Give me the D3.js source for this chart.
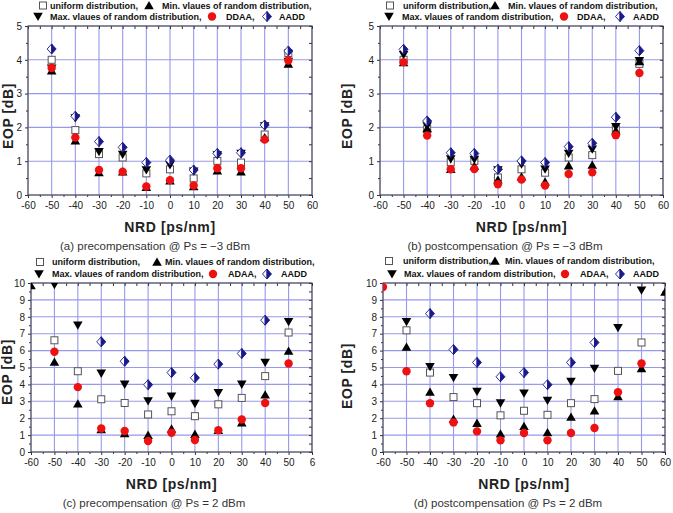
<!DOCTYPE html>
<html>
<head>
<meta charset="utf-8">
<script src="https://cdn.jsdelivr.net/npm/d3@7"></script>
<style>
  html, body { margin: 0; padding: 0; background: #fff; }
  svg { display: block; font-family: "Liberation Sans", Arial, sans-serif; }
</style>
</head>
<body>
<svg id="chart" width="673" height="513"></svg>
<script>
// ---------------- DATA ----------------
const nrdTop = [-50, -40, -30, -20, -10, 0, 10, 20, 30, 40, 50];
const nrdBottom = [-60, -50, -40, -30, -20, -10, 0, 10, 20, 30, 40, 50, 60];
const xTicks = [-60, -50, -40, -30, -20, -10, 0, 10, 20, 30, 40, 50, 60];
const xTickLabelsAB = ["-60","-50","-40","-30","-20","-10","0","10","20","30","40","50","60"];
const xTickLabelsC = ["-60","-50","-40","-30","-20","-10","0","10","20","30","40","50","6"];
const yTicksTop = [0, 1, 2, 3, 4, 5];
const yTicksBottom = [0, 1, 2, 3, 4, 5, 6, 7, 8, 9, 10];

// (a) precompensation @ Ps = -3 dBm
const aUniform = [4.00, 1.92, 1.21, 1.11, 0.64, 0.76, 0.49, 1.01, 0.96, 1.79, 4.20];
const aMin     = [3.68, 1.61, 0.67, 0.69, 0.23, 0.42, 0.25, 0.72, 0.69, 1.70, 3.88];
const aMax     = [3.75, 2.28, 1.28, 1.20, 0.74, 0.89, 0.70, 1.18, 1.23, 2.04, 3.95];
const aDDAA    = [3.76, 1.70, 0.74, 0.69, 0.25, 0.44, 0.28, 0.79, 0.79, 1.64, 3.98];
const aAADD    = [4.32, 2.33, 1.58, 1.41, 0.96, 1.03, 0.74, 1.23, 1.25, 2.07, 4.26];

// (b) postcompensation @ Ps = -3 dBm
const bUniform = [4.00, 1.95, 0.97, 1.01, 0.52, 0.76, 0.66, 1.11, 1.18, 1.95, 3.88];
const bMin     = [3.92, 1.97, 0.76, 0.85, 0.45, 0.54, 0.39, 0.87, 0.89, 1.90, 3.95];
const bMax     = [4.15, 2.04, 1.06, 1.05, 0.74, 0.91, 0.76, 1.23, 1.35, 2.02, 3.97];
const bDDAA    = [3.93, 1.76, 0.76, 0.77, 0.32, 0.46, 0.28, 0.62, 0.67, 1.77, 3.61];
const bAADD    = [4.31, 2.19, 1.25, 1.23, 0.76, 1.01, 0.96, 1.43, 1.53, 2.30, 4.27];

// (c) precompensation @ Ps = 2 dBm  (x = -60 .. 60)
const cUniform = [null, 6.61, 4.78, 3.12, 2.90, 2.22, 2.41, 2.12, 2.82, 3.20, 4.49, 7.07, null];
const cMin     = [9.85, 5.33, 2.86, 1.33, 1.10, 1.00, 1.37, 1.06, 1.29, 1.73, 3.39, 5.98, null];
const cMax     = [null, 9.90, 7.50, 4.65, 4.00, 3.02, 3.29, 2.86, 3.51, 4.00, 5.30, 7.70, null];
const cADAA    = [null, 5.93, 3.84, 1.39, 1.24, 0.65, 1.14, 0.71, 1.29, 1.92, 2.90, 5.24, null];
const cAADD    = [null, null, null, 6.52, 5.37, 3.98, 4.70, 4.39, 5.20, 5.83, 7.80, null, null];

// (d) postcompensation @ Ps = 2 dBm  (x = -60 .. 60)
const dUniform = [null, 7.20, 4.70, 3.25, 2.89, 2.17, 2.44, 2.20, 2.89, 3.13, 4.80, 6.48, null];
const dMin     = [null, 6.22, 3.55, 1.95, 1.71, 1.08, 1.52, 1.16, 2.07, 2.44, 3.29, 4.94, 9.47];
const dMax     = [null, 7.70, 5.04, 4.39, 3.58, 2.89, 3.48, 3.05, 4.17, 4.94, 7.35, 9.57, null];
const dADAA    = [9.76, 4.78, 2.89, 1.75, 1.22, 0.69, 1.12, 0.69, 1.12, 1.42, 3.54, 5.24, null];
const dAADD    = [null, null, 8.19, 6.06, 5.30, 4.45, 4.70, 3.98, 5.30, 6.48, null, null, null];

const legendLine1 = ["uniform distribution,", "Min. vlaues of random distribution,"];
const legendLine2AB = ["Max. vlaues of random distribution,", "DDAA,", "AADD"];
const legendLine2CD = ["Max. vlaues of random distribution,", "ADAA,", "AADD"];
const captions = [
  "(a)  precompensation  @  Ps  =  \u22123  dBm",
  "(b)  postcompensation  @  Ps  =  \u22123  dBm",
  "(c)  precompensation  @  Ps  =  2  dBm",
  "(d)  postcompensation  @  Ps  =  2  dBm"
];
const xTitle = "NRD [ps/nm]";
const yTitle = "EOP [dB]";

// ---------------- DRAW ----------------
const svg = d3.select("#chart");
const FONT = '"Liberation Sans", Arial, sans-serif';
const GRID = "#9898ec";
const NAVY = "#1a1a8c";
const RED = "#ee1111";

function drawMarker(g, type, x, y) {
  if (type === "square") {
    g.append("rect").attr("x", x - 3.5).attr("y", y - 3.5).attr("width", 7).attr("height", 7)
      .attr("fill", "#fff").attr("stroke", "#555").attr("stroke-width", 1);
  } else if (type === "up") {
    g.append("path").attr("d", `M${x},${y-4.5}L${x+4.8},${y+3.8}L${x-4.8},${y+3.8}Z`).attr("fill", "#000");
  } else if (type === "down") {
    g.append("path").attr("d", `M${x},${y+4.5}L${x+4.8},${y-3.8}L${x-4.8},${y-3.8}Z`).attr("fill", "#000");
  } else if (type === "circle") {
    g.append("circle").attr("cx", x).attr("cy", y).attr("r", 4.2).attr("fill", RED);
  } else if (type === "diamond") {
    g.append("path").attr("d", `M${x},${y-5}L${x-4.5},${y}L${x},${y+5}Z`)
      .attr("fill", "#fff").attr("stroke", NAVY).attr("stroke-width", 0.9);
    g.append("path").attr("d", `M${x},${y-5}L${x+4.5},${y}L${x},${y+5}Z`)
      .attr("fill", NAVY).attr("stroke", NAVY).attr("stroke-width", 0.9);
  }
}

function panel(cfg) {
  const x = d3.scaleLinear().domain([-60, 60]).range([cfg.x0, cfg.x1]);
  const y = d3.scaleLinear().domain([0, cfg.ymax]).range([cfg.y0, cfg.y1]);
  const g = svg.append("g");
  const clipId = "clip" + cfg.id;
  svg.append("clipPath").attr("id", clipId).append("rect")
    .attr("x", cfg.x0).attr("y", cfg.y1).attr("width", cfg.x1 - cfg.x0).attr("height", cfg.y0 - cfg.y1);

  // grid
  const grid = g.append("g");
  xTicks.forEach(t => {
    grid.append("line").attr("x1", x(t)).attr("x2", x(t)).attr("y1", cfg.y0).attr("y2", cfg.y1)
      .attr("stroke", GRID).attr("stroke-width", 1.1);
  });
  cfg.yTicks.forEach(t => {
    grid.append("line").attr("x1", cfg.x0).attr("x2", cfg.x1).attr("y1", y(t)).attr("y2", y(t))
      .attr("stroke", GRID).attr("stroke-width", 1.1);
  });

  // axes with d3
  const xMinor = d3.range(-55, 60, 10);
  const yMinor = d3.range(0.5, cfg.ymax, 1);
  const bottom = d3.axisBottom(x).tickValues(xTicks).tickFormat((d, i) => cfg.xLabels[i]).tickSize(3).tickPadding(4);
  const left = d3.axisLeft(y).tickValues(cfg.yTicks).tickFormat(d3.format("d")).tickSize(3).tickPadding(3);
  const gb = g.append("g").attr("transform", `translate(0,${cfg.y0})`).call(bottom);
  const gl = g.append("g").attr("transform", `translate(${cfg.x0},0)`).call(left);
  [gb, gl].forEach(a => {
    a.attr("font-family", FONT).attr("font-size", 10);
    a.select(".domain").remove();
    a.selectAll("line").attr("stroke", "#333");
    a.selectAll("text").attr("fill", "#222");
  });
  g.append("g").attr("transform", `translate(0,${cfg.y0})`).call(d3.axisBottom(x).tickValues(xMinor).tickFormat("").tickSize(2))
    .call(a => { a.select(".domain").remove(); a.selectAll("line").attr("stroke", "#333"); });
  g.append("g").attr("transform", `translate(${cfg.x0},0)`).call(d3.axisLeft(y).tickValues(yMinor).tickFormat("").tickSize(2))
    .call(a => { a.select(".domain").remove(); a.selectAll("line").attr("stroke", "#333"); });
  // top & right inward ticks
  g.append("g").attr("transform", `translate(0,${cfg.y1})`).call(d3.axisTop(x).tickValues(xTicks.concat(xMinor)).tickFormat("").tickSize(-3))
    .call(a => { a.select(".domain").remove(); a.selectAll("line").attr("stroke", "#333"); });
  g.append("g").attr("transform", `translate(${cfg.x1},0)`).call(d3.axisRight(y).tickValues(cfg.yTicks.concat(yMinor)).tickFormat("").tickSize(-3))
    .call(a => { a.select(".domain").remove(); a.selectAll("line").attr("stroke", "#333"); });

  // frame
  g.append("rect").attr("x", cfg.x0).attr("y", cfg.y1).attr("width", cfg.x1 - cfg.x0).attr("height", cfg.y0 - cfg.y1)
    .attr("fill", "none").attr("stroke", "#444").attr("stroke-width", 1);

  // markers
  const mg = g.append("g").attr("clip-path", `url(#${clipId})`);
  const series = [
    ["square", cfg.uniform], ["up", cfg.min], ["down", cfg.max], ["circle", cfg.red], ["diamond", cfg.aadd]
  ];
  series.forEach(([type, vals]) => {
    vals.forEach((v, i) => {
      if (v === null) return;
      drawMarker(mg, type, x(cfg.xs[i]), y(v));
    });
  });

  // titles
  g.append("text").attr("x", (cfg.x0 + cfg.x1) / 2).attr("y", cfg.y0 + 32)
    .attr("text-anchor", "middle").attr("dominant-baseline", "central")
    .style("font-size", "14px").style("font-weight", "bold").style("letter-spacing", "0.6px").attr("fill", "#222")
    .text(xTitle);
  g.append("text").attr("transform", `translate(${cfg.yTitleX},${cfg.yTitleY}) rotate(-90)`)
    .attr("text-anchor", "middle").attr("dominant-baseline", "central")
    .style("font-size", "14px").style("font-weight", "bold").style("letter-spacing", "0.6px").attr("fill", "#222")
    .text(yTitle);
  g.append("text").attr("x", cfg.capX).attr("y", cfg.capY)
    .attr("text-anchor", "middle").attr("dominant-baseline", "central")
    .style("font-size", "11.5px").attr("fill", "#333")
    .text(cfg.caption);

  // legend
  const lg = g.append("g").style("font-size", "9px").style("font-weight", "bold").attr("fill", "#111");
  const L = cfg.legend;
  drawMarker(lg, "square", L.sq, L.y1);
  lg.append("text").attr("x", L.t1).attr("y", L.y1).attr("dominant-baseline", "central").text(legendLine1[0]);
  drawMarker(lg, "up", L.tri, L.y1);
  lg.append("text").attr("x", L.t2).attr("y", L.y1).attr("dominant-baseline", "central").text(legendLine1[1]);
  drawMarker(lg, "down", L.dn, L.y2);
  lg.append("text").attr("x", L.t3).attr("y", L.y2).attr("dominant-baseline", "central").text(cfg.line2[0]);
  drawMarker(lg, "circle", L.rd, L.y2);
  lg.append("text").attr("x", L.t4).attr("y", L.y2).attr("dominant-baseline", "central").text(cfg.line2[1]);
  drawMarker(lg, "diamond", L.dm, L.y2);
  lg.append("text").attr("x", L.t5).attr("y", L.y2).attr("dominant-baseline", "central").text(cfg.line2[2]);
}

panel({ id: "a", x0: 28, x1: 312, y0: 195, y1: 26, ymax: 5, yTicks: yTicksTop, xLabels: xTickLabelsAB,
  xs: nrdTop, uniform: aUniform, min: aMin, max: aMax, red: aDDAA, aadd: aAADD,
  yTitleX: 8, yTitleY: 116, capX: 155, capY: 246, caption: captions[0], line2: legendLine2AB,
  legend: { y1: 5.5, y2: 16.5, sq: 43, t1: 50, tri: 149, t2: 162, dn: 38, t3: 50, rd: 212, t4: 226, dm: 267, t5: 279 } });

panel({ id: "b", x0: 380, x1: 663, y0: 195, y1: 26, ymax: 5, yTicks: yTicksTop, xLabels: xTickLabelsAB,
  xs: nrdTop, uniform: bUniform, min: bMin, max: bMax, red: bDDAA, aadd: bAADD,
  yTitleX: 347, yTitleY: 116, capX: 505, capY: 246, caption: captions[1], line2: legendLine2AB,
  legend: { y1: 5.5, y2: 16.5, sq: 390, t1: 403, tri: 495, t2: 508, dn: 389, t3: 402, rd: 564, t4: 577, dm: 620, t5: 633 } });

panel({ id: "c", x0: 31, x1: 312, y0: 452, y1: 283, ymax: 10, yTicks: yTicksBottom, xLabels: xTickLabelsC,
  xs: nrdBottom, uniform: cUniform, min: cMin, max: cMax, red: cADAA, aadd: cAADD,
  yTitleX: 7, yTitleY: 372, capX: 154, capY: 503, caption: captions[2], line2: legendLine2CD,
  legend: { y1: 262, y2: 274, sq: 40, t1: 52, tri: 157, t2: 165, dn: 39, t3: 52, rd: 213, t4: 228, dm: 267, t5: 281 } });

panel({ id: "d", x0: 383, x1: 665, y0: 452, y1: 283, ymax: 10, yTicks: yTicksBottom, xLabels: xTickLabelsAB,
  xs: nrdBottom, uniform: dUniform, min: dMin, max: dMax, red: dADAA, aadd: dAADD,
  yTitleX: 347, yTitleY: 376, capX: 508, capY: 503, caption: captions[3], line2: legendLine2CD,
  legend: { y1: 261, y2: 274, sq: 389, t1: 403, tri: 495, t2: 505, dn: 392, t3: 404, rd: 565, t4: 580, dm: 620, t5: 633 } });
</script>
</body>
</html>
